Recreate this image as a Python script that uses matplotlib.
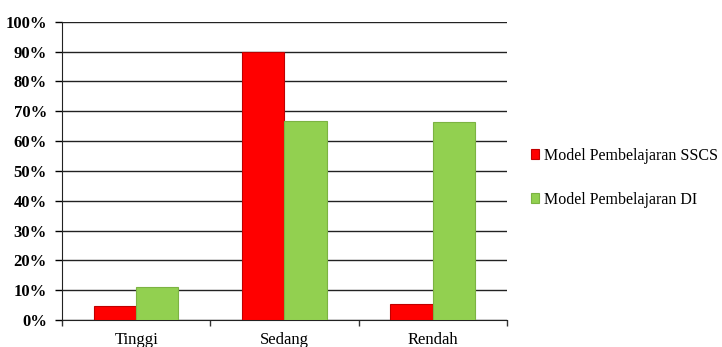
import matplotlib.pyplot as plt
import numpy as np
from matplotlib.ticker import PercentFormatter

categories = ['Tinggi', 'Sedang', 'Rendah']
sscs = [4.8, 90.0, 5.3]
di = [11.1, 66.9, 66.5]
labels = ['Model Pembelajaran SSCS', 'Model Pembelajaran DI']

plt.rcParams['font.family'] = ['Liberation Serif', 'DejaVu Serif']

fig = plt.figure(figsize=(7.22, 3.47), dpi=100)
ax = fig.add_axes([0.086, 0.078, 0.616, 0.859])

x = np.arange(len(categories))
w = 0.285
ax.bar(x - w / 2, sscs, w, color='#ff0000', edgecolor='#c00000', linewidth=0.8,
       label=labels[0], zorder=3)
ax.bar(x + w / 2, di, w, color='#92d050', edgecolor='#7cb342', linewidth=0.8,
       label=labels[1], zorder=3)

ax.set_xlim(-0.5, 2.5)
ax.set_ylim(0, 100)
ax.set_yticks(np.arange(0, 101, 10))
ax.yaxis.set_major_formatter(PercentFormatter(decimals=0))
for t in ax.get_yticklabels():
    t.set_fontweight('bold')
ax.tick_params(axis='y', labelsize=12, length=5, width=1, color='black', pad=6)

ax.set_xticks([-0.5, 0.5, 1.5, 2.5])
ax.set_xticklabels([])
ax.set_xticks(x, minor=True)
ax.set_xticklabels(categories, minor=True, fontsize=12)
ax.tick_params(axis='x', which='major', length=4, width=1, color='#333333')
ax.tick_params(axis='x', which='minor', length=0, pad=9)

ax.grid(axis='y', color='#222222', linewidth=1.0, zorder=0)
for s in ['top', 'right']:
    ax.spines[s].set_visible(False)
ax.spines['left'].set_color('#222222')
ax.spines['bottom'].set_color('#222222')

fig.legend(loc='center left', bbox_to_anchor=(0.722, 0.488), frameon=False,
           fontsize=11.5, handlelength=0.5, handleheight=0.5, handletextpad=0.3,
           labelspacing=1.75, borderaxespad=0.2)

fig.savefig('out.png', dpi=100)
